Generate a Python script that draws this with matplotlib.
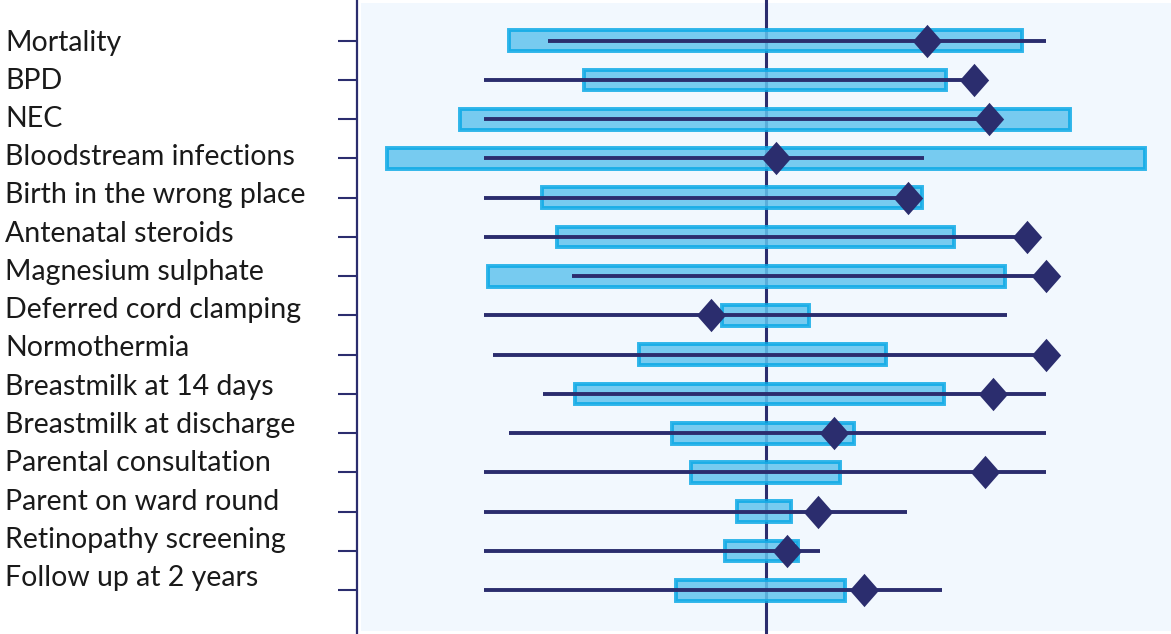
import numpy as np
import matplotlib
matplotlib.use("Agg")
import matplotlib.pyplot as plt
from matplotlib.patches import Rectangle

plt.rcParams['font.family'] = ['Lato', 'DejaVu Sans']

# ===== data (centred scale, 0 = reference line) =====
measures = ["Mortality", "BPD", "NEC", "Bloodstream infections",
            "Birth in the wrong place", "Antenatal steroids",
            "Magnesium sulphate", "Deferred cord clamping", "Normothermia",
            "Breastmilk at 14 days", "Breastmilk at discharge",
            "Parental consultation", "Parent on ward round",
            "Retinopathy screening", "Follow up at 2 years"]
bar_lo = [-25.7, -18.2, -30.6, -37.9, -22.4, -20.9, -27.8, -4.4, -12.7, -19.1, -9.4, -7.5, -2.9, -4.1, -9.0]
bar_hi = [25.6, 18.0, 30.4, 37.9, 15.6, 18.8, 23.9, 4.3, 12.0, 17.8, 8.8, 7.4, 2.5, 3.2, 7.9]
line_lo = [-21.8, -28.2, -28.2, -28.2, -28.2, -28.2, -19.4, -28.2, -27.3, -22.3, -25.7, -28.2, -28.2, -28.2, -28.2]
line_hi = [28.0, 20.7, 22.3, 15.8, 14.1, 26.1, 28.0, 24.1, 28.0, 28.0, 28.0, 28.0, 14.1, 5.4, 17.6]
unit_val = [16.1, 20.8, 22.3, 1.0, 14.2, 26.1, 28.0, -5.5, 28.0, 22.7, 6.8, 21.9, 5.2, 2.1, 9.8]

navy = "#2b2d6e"
W, H = 1171, 634
fig = plt.figure(figsize=(W / 100, H / 100), dpi=100)
ax = fig.add_axes([357 / W, 0, 1 - 357 / W, 1])
ax.set_facecolor("white")
ax.add_patch(Rectangle((0.005, 0.005), 0.995, 0.99, transform=ax.transAxes,
                       facecolor="#f2f8fe", edgecolor="none", zorder=0))

y = np.arange(len(measures))

ax.axvline(0, color=navy, lw=2.2, zorder=1)

ax.barh(y, np.array(bar_hi) - np.array(bar_lo), left=bar_lo, height=0.53,
        color="#62c4ee", edgecolor="#0ba9e6", linewidth=2.8, alpha=0.85, zorder=2)
ax.hlines(y, line_lo, line_hi, color=navy, lw=2.8, zorder=3)

diamond = [(0, 1), (0.88, 0), (0, -1), (-0.88, 0), (0, 1)]
ax.plot(unit_val, y, ls="none", marker=diamond, ms=24, color=navy,
        markeredgewidth=0, zorder=4)

ax.set_xlim(-40.9, 40.5)
ax.set_ylim((H - 40.7) / 39.25, -40.7 / 39.25)
ax.set_yticks(y)
ax.set_yticklabels([])
ax.set_xticks([])
ax.tick_params(axis="y", length=13.5, width=1.5, color=navy)
for s in ["top", "right", "bottom"]:
    ax.spines[s].set_visible(False)
ax.spines["left"].set_color(navy)
ax.spines["left"].set_linewidth(1.6)

# category labels sit left of the axis
for i, name in enumerate(measures):
    fig.text(5 / W, 1 - (50.5 + i * 38.25) / H, name, ha="left", va="baseline",
             fontsize=20.5, color="#1a1a1a")

fig.savefig("out.png", dpi=100)
